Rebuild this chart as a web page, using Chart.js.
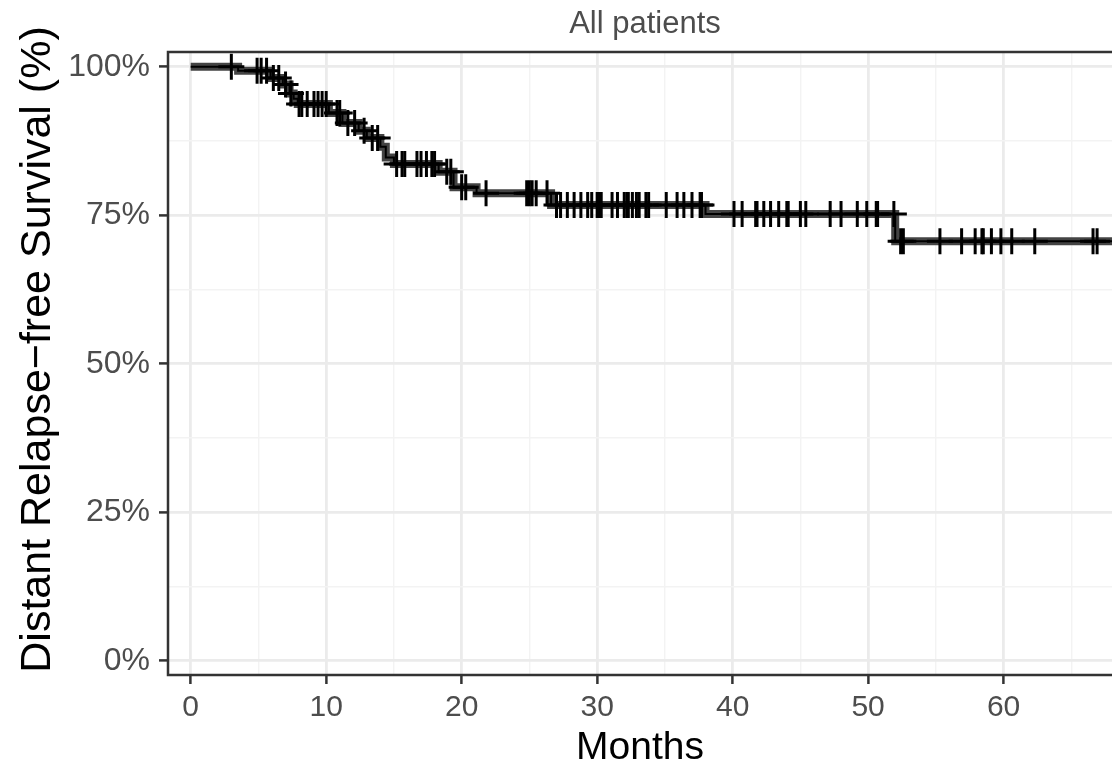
<!DOCTYPE html>
<html>
<head>
<meta charset="utf-8">
<script src="https://cdn.jsdelivr.net/npm/chart.js@4.4.1/dist/chart.umd.min.js"></script>
<style>
  html, body { margin: 0; padding: 0; background: #ffffff; overflow: hidden; }
  #contenedor { width: 1112px; height: 768px; }
</style>
</head>
<body>
<div id="contenedor"><canvas id="myChart" width="1112" height="768"></canvas></div>
<script>
// Textos del grafico
const tituloPanel = "All patients";
const tituloX = "Months";
const tituloY = "Distant Relapse\u2212free Survival (%)";

// Curva de Kaplan-Meier: tiempo del evento (meses) y supervivencia despues del evento (%)
const tiempos      = [0,   3.5,  5.9,  6.8,  7.3,  7.6,  7.9,  10.2, 11.2, 12.4, 13.0, 14.0, 14.4, 15.0, 18.3, 19.4, 21.1, 26.6, 38.0, 52.0, 68.5];
const supervivencia = [100, 99.3, 98.1, 97.0, 95.5, 94.6, 93.7, 92.2, 90.5, 89.2, 88.0, 86.5, 84.7, 83.6, 82.3, 79.7, 78.7, 76.7, 75.2, 70.6, 70.6];

// Marcas de censura (+)
const censuraTiempos = [
  3.0,
  4.9, 5.2, 5.6,
  6.1, 6.5,
  7.0,
  7.4,
  8.0, 8.2, 8.6, 9.1, 9.4, 9.7, 10.0,
  10.8, 11.0,
  11.6, 12.1,
  12.8,
  13.4, 13.8,
  15.2, 15.6, 15.8, 16.7, 17.0, 17.4, 17.8, 18.0,
  18.9, 19.2,
  20.0, 20.3,
  21.8, 24.8, 25.0, 25.2, 25.5, 26.3,
  27.0, 27.3, 27.8, 28.3, 28.8, 29.3, 29.6, 30.0, 30.1, 30.3, 31.1, 31.5, 32.0, 32.2, 32.3, 32.6, 32.9, 33.1, 33.6, 33.8, 35.1, 35.9, 36.4, 37.0, 37.6, 37.7,
  40.1, 40.7, 41.7, 41.8, 42.3, 42.8, 43.4, 44.0, 44.1, 45.0, 45.4, 47.2, 48.0, 49.2, 49.9, 50.6, 50.7, 51.9,
  52.4, 52.6, 55.3, 56.9, 57.9, 58.4, 58.5, 59.1, 59.8, 60.6, 62.3, 66.6, 66.9
];
const censuraSuperv = [
  100,
  99.3, 99.3, 99.3,
  98.1, 98.1,
  97.0,
  95.5,
  93.7, 93.7, 93.7, 93.7, 93.7, 93.7, 93.7,
  92.2, 92.2,
  90.5, 90.5,
  89.2,
  88.0, 88.0,
  83.6, 83.6, 83.6, 83.6, 83.6, 83.6, 83.6, 83.6,
  82.3, 82.3,
  79.7, 79.7,
  78.7, 78.7, 78.7, 78.7, 78.7, 78.7,
  76.7, 76.7, 76.7, 76.7, 76.7, 76.7, 76.7, 76.7, 76.7, 76.7, 76.7, 76.7, 76.7, 76.7, 76.7, 76.7, 76.7, 76.7, 76.7, 76.7, 76.7, 76.7, 76.7, 76.7, 76.7, 76.7,
  75.2, 75.2, 75.2, 75.2, 75.2, 75.2, 75.2, 75.2, 75.2, 75.2, 75.2, 75.2, 75.2, 75.2, 75.2, 75.2, 75.2, 75.2,
  70.6, 70.6, 70.6, 70.6, 70.6, 70.6, 70.6, 70.6, 70.6, 70.6, 70.6, 70.6, 70.6
];

// Ticks (mayores con etiqueta, menores solo linea de grilla)
const ticksX = [0, 5, 10, 15, 20, 25, 30, 35, 40, 45, 50, 55, 60, 65];
const ticksY = [0, 12.5, 25, 37.5, 50, 62.5, 75, 87.5, 100];

const fuente = '"Liberation Sans", Arial, sans-serif';

function esMayorX(v) { return v % 10 === 0; }
function esMayorY(v) { return v % 25 === 0; }

// Marco del panel, titulo y titulo del eje Y
const marcoPanel = {
  id: 'marcoPanel',
  afterDatasetsDraw(chart) {
    const ctx = chart.ctx;
    const a = chart.chartArea;
    ctx.save();
    ctx.strokeStyle = '#333333';
    ctx.lineWidth = 2.5;
    ctx.beginPath();
    ctx.moveTo(a.right + 10, a.top);
    ctx.lineTo(a.left, a.top);
    ctx.lineTo(a.left, a.bottom);
    ctx.lineTo(a.right + 10, a.bottom);
    ctx.stroke();

    ctx.fillStyle = '#4d4d4d';
    ctx.font = '31px ' + fuente;
    ctx.textAlign = 'center';
    ctx.textBaseline = 'alphabetic';
    ctx.fillText(tituloPanel, (a.left + a.right) / 2 + 5, 33);

    ctx.translate(38, (a.top + a.bottom) / 2 - 14);
    ctx.rotate(-Math.PI / 2);
    ctx.fillStyle = '#000000';
    ctx.font = '43px ' + fuente;
    ctx.textBaseline = 'middle';
    ctx.fillText(tituloY, 0, 0);
    ctx.restore();
  }
};

function crearDatos() {
  const curva = tiempos.map((t, i) => ({ x: t, y: supervivencia[i] }));
  const marcas = censuraTiempos.map((t, i) => ({ x: t, y: censuraSuperv[i] }));
  return {
    datasets: [
      {
        data: marcas,
        showLine: false,
        pointStyle: 'cross',
        pointRadius: 13,
        pointBorderWidth: 3,
        borderColor: '#000000',
        backgroundColor: '#000000',
        order: 0
      },
      {
        data: curva,
        showLine: true,
        stepped: 'before',
        borderColor: '#000000',
        borderWidth: 2,
        pointRadius: 0,
        order: 1
      },
      {
        data: curva,
        showLine: true,
        stepped: 'before',
        borderColor: '#444444',
        borderWidth: 8,
        borderCapStyle: 'butt',
        pointRadius: 0,
        order: 2
      }
    ]
  };
}

function renderGrafica() {
  const canvas = document.querySelector('#myChart');
  const config = {
    type: 'scatter',
    data: crearDatos(),
    plugins: [marcoPanel],
    options: {
      responsive: false,
      animation: false,
      devicePixelRatio: 1,
      layout: { autoPadding: false, padding: { top: 52, left: 0, right: 0, bottom: 0 } },
      plugins: { legend: { display: false }, tooltip: { enabled: false } },
      scales: {
        x: {
          type: 'linear',
          min: -1.675,
          max: 68.0,
          afterBuildTicks: s => { s.ticks = ticksX.map(v => ({ value: v })); },
          afterFit: s => { s.height = 93; s.paddingLeft = 0; s.paddingRight = 0; },
          border: { display: false },
          grid: {
            color: c => (c.tick && esMayorX(c.tick.value)) ? '#ebebeb' : '#f3f3f3',
            lineWidth: c => (c.tick && esMayorX(c.tick.value)) ? 2.8 : 1.4,
            tickLength: 9,
            tickWidth: 2.5,
            tickColor: c => (c.tick && esMayorX(c.tick.value)) ? '#333333' : 'rgba(0,0,0,0)'
          },
          ticks: {
            autoSkip: false,
            maxRotation: 0,
            padding: 6,
            color: '#4d4d4d',
            font: { size: 30, family: fuente },
            callback: v => esMayorX(v) ? String(v) : ''
          },
          title: {
            display: true,
            text: tituloX,
            color: '#000000',
            font: { size: 39, family: fuente },
            padding: { top: 0, bottom: -4 }
          }
        },
        y: {
          type: 'linear',
          min: -2.41,
          max: 102.47,
          afterBuildTicks: s => { s.ticks = ticksY.map(v => ({ value: v })); },
          afterFit: s => { s.width = 168; s.paddingTop = 0; s.paddingBottom = 0; },
          border: { display: false },
          grid: {
            color: c => (c.tick && esMayorY(c.tick.value)) ? '#ebebeb' : '#f3f3f3',
            lineWidth: c => (c.tick && esMayorY(c.tick.value)) ? 2.8 : 1.4,
            tickLength: 9,
            tickWidth: 2.5,
            tickColor: c => (c.tick && esMayorY(c.tick.value)) ? '#333333' : 'rgba(0,0,0,0)'
          },
          ticks: {
            autoSkip: false,
            padding: 9,
            color: '#4d4d4d',
            font: { size: 32, family: fuente },
            callback: v => esMayorY(v) ? v + '%' : ''
          },
          title: { display: false }
        }
      }
    }
  };
  new Chart(canvas, config);
}

renderGrafica();
</script>
</body>
</html>
